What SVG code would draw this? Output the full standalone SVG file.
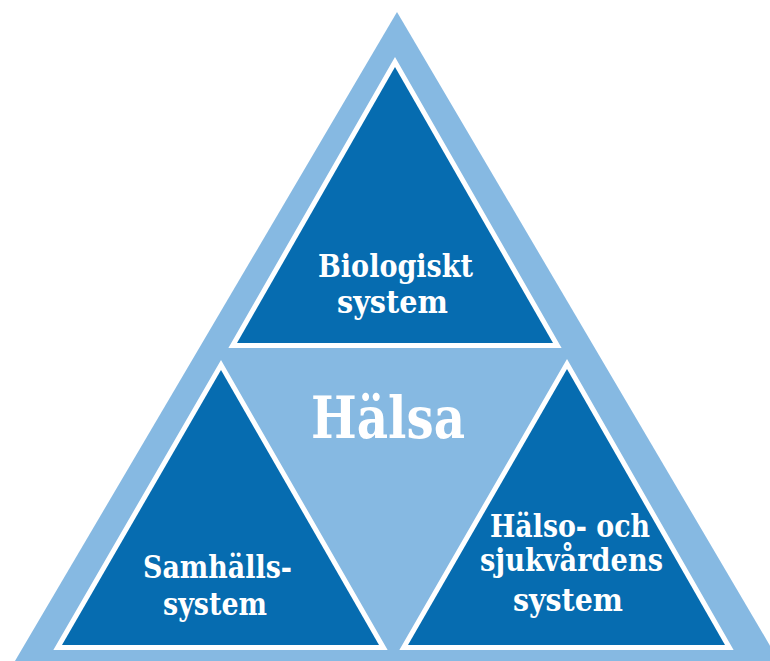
<svg xmlns="http://www.w3.org/2000/svg" width="770" height="661" viewBox="0 0 770 661">
<style>
.outer{fill:#86b9e2}
.tri{fill:#066cb0;stroke:#ffffff;stroke-width:10;stroke-linejoin:miter;stroke-miterlimit:10;paint-order:stroke}
.lbl{fill:#ffffff;font-family:"DejaVu Serif","Liberation Serif",serif;font-weight:bold;font-size:31.5px;text-anchor:middle}
.big{fill:#ffffff;font-family:"DejaVu Serif","Liberation Serif",serif;font-weight:bold;font-size:57px;text-anchor:middle}
</style>
<rect width="770" height="661" fill="#ffffff"/>
<g id="outer">
<polygon class="outer" points="397,12 -8,700 802,700"/>
</g>
<g id="biologiskt">
<polygon class="tri" points="395,67 237,343 553,343"/>
<text class="lbl" x="395.5" y="277" textLength="155" lengthAdjust="spacingAndGlyphs">Biologiskt</text>
<text class="lbl" x="392.5" y="313" textLength="111" lengthAdjust="spacingAndGlyphs">system</text>
</g>
<g id="samhalls">
<polygon class="tri" points="221,370 62,645 379,645"/>
<text class="lbl" x="217.5" y="578" textLength="149" lengthAdjust="spacingAndGlyphs">Samhälls-</text>
<text class="lbl" x="215" y="615" textLength="104" lengthAdjust="spacingAndGlyphs">system</text>
</g>
<g id="halso">
<polygon class="tri" points="567,369 408,645 725,645"/>
<text class="lbl" x="570" y="537" textLength="160" lengthAdjust="spacingAndGlyphs">Hälso- och</text>
<text class="lbl" x="571.5" y="571" textLength="183" lengthAdjust="spacingAndGlyphs">sjukvårdens</text>
<text class="lbl" x="568" y="611" textLength="110" lengthAdjust="spacingAndGlyphs">system</text>
</g>
<g id="halsa">
<text class="big" x="388" y="438" textLength="154" lengthAdjust="spacingAndGlyphs">Hälsa</text>
</g>
<g id="connectors"></g>
</svg>
